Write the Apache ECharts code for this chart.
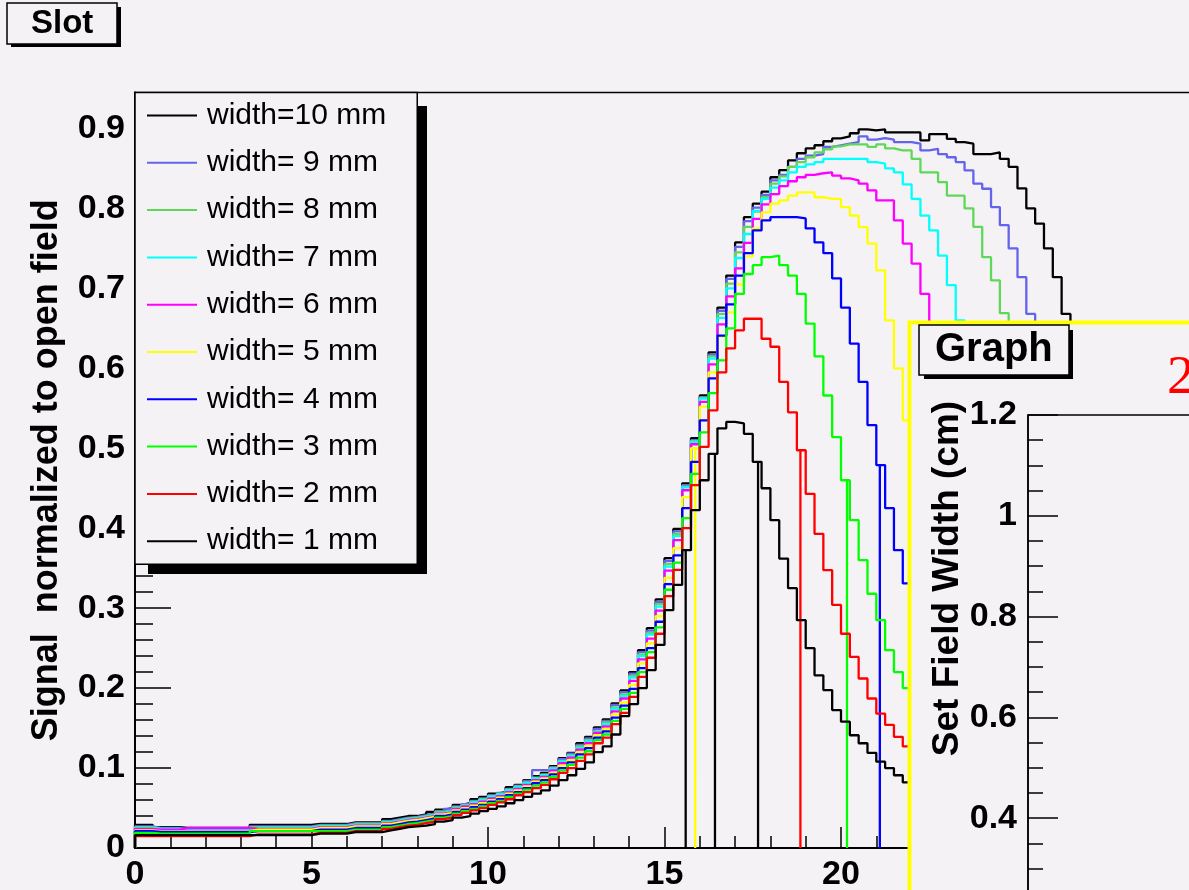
<!DOCTYPE html>
<html><head><meta charset="utf-8">
<script src="https://cdn.jsdelivr.net/npm/echarts@6/dist/echarts.min.js"></script>
<style>html,body{margin:0;padding:0;background:#f5f2f5;}#c{width:1189px;height:890px;}</style>
</head><body><div id="c"></div>
<script>
// ---- data ----
const binWidth = 0.25; // histogram bins start at x = 0
const seriesNames = ['width=10 mm','width= 9 mm','width= 8 mm','width= 7 mm','width= 6 mm','width= 5 mm','width= 4 mm','width= 3 mm','width= 2 mm','width= 1 mm'];
const seriesColors = ['#000000','#6363ec','#5fd85a','#00ffff','#ff00ff','#ffff00','#0000ff','#00ff00','#ff0000','#000000'];
const xTicks = [0,5,10,15,20,25,30];
const yTicks = [0,0.1,0.2,0.3,0.4,0.5,0.6,0.7,0.8,0.9];
const graphYTicks = [0.4,0.6,0.8,1.0,1.2];

const w10 = [0.029,0.029,0.026,0.026,0.026,0.025,0.025,0.025,0.025,0.025,
0.025,0.025,0.025,0.029,0.029,0.029,0.029,0.029,0.029,0.029,
0.030,0.030,0.030,0.030,0.032,0.032,0.032,0.032,0.036,0.038,
0.040,0.040,0.042,0.045,0.048,0.050,0.054,0.056,0.061,0.064,
0.068,0.070,0.076,0.079,0.085,0.090,0.094,0.1025,0.1125,0.119,
0.131,0.139,0.151,0.161,0.181,0.197,0.220,0.2475,0.275,0.311,
0.3625,0.399,0.456,0.5125,0.566,0.620,0.676,0.716,0.7575,0.789,
0.806,0.821,0.839,0.848,0.860,0.869,0.875,0.879,0.884,0.8875,
0.890,0.894,0.899,0.8975,0.899,0.895,0.895,0.895,0.895,0.885,
0.893,0.893,0.887,0.883,0.881,0.868,0.868,0.870,0.862,0.852,
0.825,0.800,0.781,0.750,0.714,0.668,0.600,0.500,0.380,0.250,
0.140,0.080,0.050,0.035,0.030,0.028];
const w9 = [0.027,0.027,0.025,0.025,0.025,0.024,0.024,0.024,0.024,0.024,
0.024,0.024,0.024,0.027,0.027,0.027,0.027,0.027,0.027,0.027,
0.029,0.029,0.029,0.029,0.031,0.031,0.031,0.031,0.034,0.036,
0.038,0.039,0.041,0.043,0.046,0.049,0.052,0.055,0.059,0.062,
0.066,0.069,0.074,0.078,0.084,0.0975,0.0975,0.101,0.111,0.118,
0.129,0.137,0.149,0.159,0.179,0.195,0.218,0.245,0.272,0.308,
0.359,0.396,0.454,0.510,0.564,0.617,0.672,0.712,0.752,0.784,
0.801,0.817,0.835,0.842,0.852,0.862,0.866,0.868,0.877,0.879,
0.881,0.883,0.890,0.886,0.888,0.886,0.883,0.883,0.881,0.8725,
0.8746,0.868,0.864,0.858,0.8475,0.831,0.8246,0.8017,0.779,0.750,
0.714,0.668,0.600,0.500,0.380,0.250,0.150,0.080,0.050,0.035,
0.028,0.026];
const w8 = [0.026,0.026,0.024,0.024,0.024,0.023,0.023,0.023,0.023,0.023,
0.023,0.023,0.023,0.026,0.026,0.026,0.026,0.026,0.026,0.026,
0.028,0.028,0.028,0.028,0.030,0.030,0.030,0.030,0.033,0.035,
0.037,0.038,0.040,0.042,0.045,0.047,0.051,0.054,0.058,0.061,
0.065,0.068,0.073,0.077,0.082,0.088,0.092,0.100,0.109,0.116,
0.127,0.135,0.146,0.157,0.176,0.192,0.215,0.242,0.269,0.305,
0.355,0.393,0.452,0.509,0.563,0.615,0.668,0.706,0.745,0.777,
0.796,0.814,0.831,0.840,0.852,0.858,0.864,0.870,0.874,0.8775,
0.880,0.880,0.880,0.877,0.880,0.875,0.8725,0.8725,0.862,0.845,
0.845,0.833,0.816,0.816,0.800,0.777,0.739,0.710,0.669,0.590,
0.480,0.350,0.230,0.130,0.075,0.048,0.035,0.029,0.026,0.025];
const w7 = [0.025,0.025,0.024,0.024,0.024,0.023,0.023,0.023,0.023,0.023,
0.023,0.023,0.023,0.025,0.025,0.025,0.025,0.025,0.025,0.025,
0.027,0.027,0.027,0.027,0.029,0.029,0.029,0.029,0.032,0.034,
0.036,0.037,0.039,0.041,0.044,0.046,0.050,0.053,0.057,0.060,
0.064,0.067,0.072,0.076,0.081,0.087,0.091,0.099,0.108,0.115,
0.125,0.133,0.145,0.155,0.174,0.190,0.213,0.240,0.267,0.302,
0.352,0.390,0.451,0.508,0.562,0.612,0.663,0.700,0.738,0.768,
0.797,0.812,0.826,0.835,0.845,0.852,0.855,0.858,0.862,0.862,
0.862,0.862,0.862,0.858,0.856,0.850,0.845,0.830,0.812,0.791,
0.7725,0.741,0.704,0.660,0.590,0.490,0.370,0.250,0.140,0.080,
0.050,0.035,0.028,0.026,0.025];
const w6 = [0.024,0.024,0.023,0.023,0.023,0.025,0.025,0.025,0.025,0.025,
0.025,0.025,0.025,0.024,0.024,0.024,0.024,0.024,0.024,0.024,
0.026,0.026,0.026,0.026,0.028,0.028,0.028,0.028,0.031,0.033,
0.035,0.036,0.038,0.040,0.043,0.045,0.049,0.052,0.055,0.058,
0.062,0.065,0.070,0.074,0.079,0.085,0.089,0.097,0.106,0.113,
0.123,0.131,0.144,0.152,0.171,0.187,0.209,0.236,0.262,0.297,
0.347,0.385,0.4475,0.505,0.558,0.605,0.655,0.690,0.725,0.757,
0.787,0.805,0.818,0.828,0.834,0.839,0.842,0.844,0.845,0.841,
0.8375,0.835,0.831,0.8225,0.810,0.810,0.785,0.756,0.731,0.693,
0.620,0.500,0.370,0.250,0.150,0.090,0.060,0.040,0.030,0.026,
0.025,0.025];
const w5 = [0.022,0.022,0.021,0.021,0.021,0.021,0.021,0.021,0.021,0.021,
0.021,0.021,0.021,0.023,0.023,0.023,0.023,0.023,0.023,0.023,
0.025,0.025,0.025,0.025,0.027,0.027,0.027,0.027,0.030,0.032,
0.034,0.035,0.037,0.039,0.042,0.044,0.047,0.050,0.053,0.056,
0.060,0.063,0.068,0.072,0.077,0.083,0.087,0.094,0.103,0.110,
0.120,0.128,0.141,0.149,0.167,0.182,0.204,0.231,0.256,0.290,
0.338,0.375,0.439,0.500,0.552,0.595,0.640,0.670,0.705,0.740,
0.775,0.795,0.806,0.810,0.816,0.820,0.820,0.814,0.812,0.812,
0.8017,0.791,0.7766,0.756,0.7225,0.660,0.600,0.535,0.460,0.380,
0.290,0.200,0.130,0.080,0.050,0.035,0.028,0.025,0.024,0.023];
const w4 = [0.021,0.021,0.020,0.020,0.020,0.020,0.020,0.020,0.020,0.020,
0.020,0.020,0.020,0.021,0.021,0.021,0.021,0.021,0.021,0.021,
0.023,0.023,0.023,0.023,0.025,0.025,0.025,0.025,0.028,0.030,
0.032,0.033,0.035,0.037,0.040,0.042,0.045,0.048,0.051,0.054,
0.058,0.061,0.066,0.070,0.075,0.081,0.085,0.092,0.100,0.107,
0.117,0.125,0.138,0.146,0.163,0.178,0.199,0.225,0.250,0.283,
0.330,0.366,0.425,0.483,0.535,0.5875,0.641,0.680,0.716,0.744,
0.7725,0.785,0.789,0.789,0.789,0.7875,0.775,0.7575,0.744,0.7125,
0.676,0.631,0.583,0.529,0.479,0.425,0.3725,0.331,0.290,0.250,
0.200,0.150,0.110,0.080,0.060,0.045,0.035,0.030,0.026,0.024];
const w3 = [0.019,0.019,0.018,0.018,0.018,0.018,0.018,0.018,0.018,0.018,
0.018,0.018,0.018,0.021,0.021,0.021,0.021,0.021,0.021,0.021,
0.021,0.021,0.021,0.021,0.023,0.023,0.023,0.023,0.026,0.028,
0.030,0.031,0.033,0.035,0.038,0.040,0.043,0.046,0.049,0.052,
0.056,0.059,0.064,0.068,0.073,0.078,0.082,0.089,0.097,0.104,
0.113,0.121,0.135,0.142,0.159,0.174,0.194,0.220,0.245,0.276,
0.323,0.357,0.4125,0.468,0.520,0.569,0.610,0.650,0.693,0.718,
0.729,0.739,0.741,0.729,0.716,0.693,0.656,0.615,0.566,0.514,
0.460,0.410,0.360,0.318,0.285,0.2475,0.220,0.200,0.180,0.160,
0.130,0.100,0.075,0.055,0.042,0.034,0.029,0.026,0.024,0.022];
const w2 = [0.015,0.015,0.015,0.015,0.015,0.015,0.015,0.015,0.015,0.015,
0.015,0.015,0.015,0.017,0.017,0.017,0.017,0.017,0.017,0.017,
0.019,0.019,0.019,0.019,0.021,0.021,0.021,0.021,0.024,0.026,
0.028,0.029,0.031,0.033,0.036,0.038,0.041,0.044,0.047,0.050,
0.054,0.057,0.061,0.066,0.070,0.075,0.079,0.086,0.094,0.100,
0.109,0.117,0.131,0.138,0.155,0.169,0.189,0.214,0.238,0.268,
0.315,0.348,0.400,0.454,0.5017,0.5475,0.595,0.625,0.6475,0.662,
0.662,0.637,0.627,0.583,0.545,0.4975,0.443,0.393,0.3475,0.304,
0.268,0.239,0.212,0.187,0.168,0.154,0.139,0.127,0.115,0.105,
0.095,0.085,0.075,0.065,0.055,0.045,0.038,0.032,0.028,0.025];
const w1 = [0.016,0.016,0.016,0.016,0.016,0.016,0.016,0.016,0.016,0.016,
0.016,0.016,0.016,0.016,0.016,0.016,0.016,0.016,0.016,0.016,
0.018,0.018,0.018,0.018,0.020,0.020,0.020,0.020,0.022,0.024,
0.026,0.027,0.028,0.030,0.033,0.035,0.038,0.040,0.043,0.046,
0.049,0.052,0.056,0.060,0.064,0.068,0.072,0.078,0.085,0.091,
0.099,0.107,0.120,0.127,0.142,0.165,0.180,0.200,0.2225,0.254,
0.2975,0.329,0.3725,0.4225,0.460,0.493,0.525,0.533,0.531,0.518,
0.483,0.450,0.410,0.362,0.325,0.285,0.250,0.216,0.1975,0.1725,
0.158,0.141,0.131,0.119,0.108,0.100,0.091,0.082,0.075,0.068,
0.062,0.056,0.051,0.046,0.042,0.038,0.035,0.032,0.030,0.028];

// x positions where a histogram drops to zero (single empty sample)
const dipsW10 = [], dipsW9 = [], dipsW8 = [], dipsW7 = [], dipsW6 = [];
const dipsW5 = [15.87];
const dipsW4 = [21.1];
const dipsW3 = [20.17];
const dipsW2 = [18.85];
const dipsW1 = [15.6, 16.43, 17.65];

const seriesValues = [w10,w9,w8,w7,w6,w5,w4,w3,w2,w1];
const seriesDips = [dipsW10,dipsW9,dipsW8,dipsW7,dipsW6,dipsW5,dipsW4,dipsW3,dipsW2,dipsW1];

// ---- build ----
const BG = '#f5f2f5';
const FONT = 'Liberation Sans';
function stepPoints(vals, dips) {
  const pts = [[0, 0]];
  for (let i = 0; i < vals.length; i++) {
    const a = i * binWidth, b = (i + 1) * binWidth, v = vals[i];
    pts.push([a, v]);
    dips.filter(d => d >= a && d < b).forEach(d => { pts.push([d, v], [d, 0], [d, v]); });
    pts.push([b, v]);
  }
  pts.push([vals.length * binWidth, 0]);
  return pts;
}
const series = seriesNames.map((n, k) => ({
  type: 'line', name: n, xAxisIndex: 0, yAxisIndex: 0,
  data: stepPoints(seriesValues[k], seriesDips[k]),
  symbol: 'none', showSymbol: false, animation: false, clip: true,
  lineStyle: { color: seriesColors[k], width: 2.3 },
  itemStyle: { color: seriesColors[k] }
}));
series.push({ type: 'line', name: 'graph', xAxisIndex: 1, yAxisIndex: 1, data: [], symbol: 'none', animation: false });

const chart = echarts.init(document.getElementById('c'), null, { renderer: 'canvas' });
chart.setOption({
  backgroundColor: BG,
  animation: false,
  title: [
    { text: 'Slot', left: 7, top: 3, padding: [4, 24, 4, 24], backgroundColor: BG, z: 8,
      borderColor: '#000', borderWidth: 1.5,
      textStyle: { fontFamily: FONT, fontWeight: 'bold', fontSize: 33, lineHeight: 33, color: '#000' } },
    { text: 'Graph', left: 919, top: 325, padding: [5, 16, 5, 16], backgroundColor: BG, z: 20,
      borderColor: '#000', borderWidth: 1.5,
      textStyle: { fontFamily: FONT, fontWeight: 'bold', fontSize: 40, lineHeight: 40, color: '#000' } },
    { text: '2', left: 1167, top: 351, padding: 0, z: 20,
      textStyle: { fontFamily: 'Liberation Serif', fontWeight: 'normal', fontSize: 55, lineHeight: 55, color: '#ff0000' } }
  ],
  legend: {
    data: seriesNames, orient: 'vertical', left: 135, top: 92.5, z: 6,
    icon: 'rect', itemWidth: 50, itemHeight: 2, itemGap: 17.3, padding: [8, 31, 8, 12],
    backgroundColor: BG, borderColor: '#000', borderWidth: 1.5,
    selectedMode: false,
    textStyle: { fontFamily: FONT, fontSize: 30, lineHeight: 30, color: '#000', padding: [0, 0, 0, 5] }
  },
  graphic: [
    // legend and title-box drop shadows
    { type: 'rect', z: 5, shape: { x: 148, y: 106, width: 279, height: 468 }, style: { fill: '#000' } },
    { type: 'rect', z: 7, shape: { x: 11, y: 7, width: 110, height: 40 }, style: { fill: '#000' } },
    // overlaid "Graph" pad
    { type: 'rect', z: 10, shape: { x: 909.5, y: 322.5, width: 400, height: 700 },
      style: { fill: BG, stroke: '#ffff00', lineWidth: 4 } },
    { type: 'rect', z: 19, shape: { x: 924, y: 330, width: 149, height: 49 }, style: { fill: '#000' } }
  ],
  grid: [
    { left: 135, top: 92.5, width: 1059, height: 755.5, outerBoundsMode: 'none', containLabel: false,
      show: true, borderColor: '#000', borderWidth: 1.5, backgroundColor: 'transparent' },
    { left: 1028, top: 415, width: 400, height: 504, outerBoundsMode: 'none', containLabel: false,
      show: true, borderColor: '#000', borderWidth: 1.5, backgroundColor: BG, z: 15 }
  ],
  xAxis: [
    { type: 'value', gridIndex: 0, min: xTicks[0], max: xTicks[xTicks.length - 1], interval: 5,
      axisLine: { onZero: false, lineStyle: { color: '#000', width: 2 } },
      axisTick: { inside: true, length: 21, lineStyle: { color: '#000', width: 1.5 } },
      minorTick: { show: true, splitNumber: 5, length: 12, lineStyle: { color: '#000', width: 1.5 } },
      axisLabel: { fontFamily: FONT, fontWeight: 'bold', fontSize: 34, color: '#000', margin: 10 },
      splitLine: { show: false } },
    { type: 'value', gridIndex: 1, min: 0, max: 1, show: false, splitLine: { show: false } }
  ],
  yAxis: [
    { type: 'value', gridIndex: 0, min: yTicks[0], max: 0.945, interval: 0.1,
      axisLine: { onZero: false, lineStyle: { color: '#000', width: 2 } },
      axisTick: { inside: true, length: 36, lineStyle: { color: '#000', width: 1.5 } },
      minorTick: { show: true, splitNumber: 5, length: 18, lineStyle: { color: '#000', width: 1.5 } },
      axisLabel: { fontFamily: FONT, fontWeight: 'bold', fontSize: 34, color: '#000', margin: 10, showMaxLabel: false },
      splitLine: { show: false },
      name: 'Signal  normalized to open field', nameLocation: 'middle', nameRotate: 90, nameGap: 70,
      nameTextStyle: { fontFamily: FONT, fontWeight: 'bold', fontSize: 36, color: '#000' } },
    { type: 'value', gridIndex: 1, min: 0.2, max: graphYTicks[graphYTicks.length - 1], interval: 0.2, z: 16,
      axisLine: { onZero: false, lineStyle: { color: '#000', width: 1.5 } },
      axisTick: { inside: true, length: 30, lineStyle: { color: '#000', width: 1.5 } },
      minorTick: { show: true, splitNumber: 4, length: 15, lineStyle: { color: '#000', width: 1.5 } },
      axisLabel: { fontFamily: FONT, fontWeight: 'bold', fontSize: 34, color: '#000', margin: 11 },
      splitLine: { show: false },
      name: 'Set Field Width (cm)', nameLocation: 'middle', nameRotate: 90, nameGap: 56,
      nameTextStyle: { fontFamily: FONT, fontWeight: 'bold', fontSize: 37, color: '#000', padding: [0, 0, 0, 177] } }
  ],
  series: series
});
</script>
</body></html>
